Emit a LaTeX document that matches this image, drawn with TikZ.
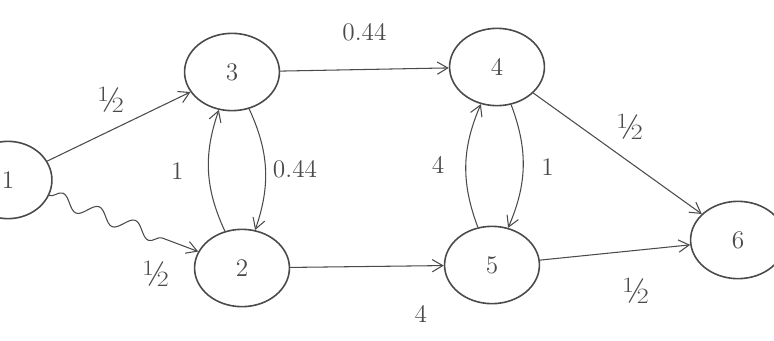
\documentclass[tikz,border=0pt]{standalone}
\usepackage{tikz}
\usetikzlibrary{arrows.meta,decorations.pathmorphing}
\definecolor{pencil}{HTML}{4A4A4A}
\tikzset{
  state/.style={
    ellipse, draw=pencil, line width=0.9pt,
    minimum width=54pt, minimum height=44pt,
    inner sep=0pt, font=\Large, text=pencil
  },
  arr/.style={-{Straight Barb[length=6pt,width=7pt]}, draw=pencil, line width=0.6pt},
  wlabel/.style={font=\Large, text=pencil, inner sep=4pt},
  half/.style={wlabel, font=\huge},
}
\usetikzlibrary{shapes.geometric}

\begin{document}
\begin{tikzpicture}[x=0.02cm, y=-0.02cm]

  % ── Canvas ───────────────────────────────────────────────────────────────────
  \useasboundingbox (0,0) rectangle (774,341);

  % ── States ───────────────────────────────────────────────────────────────────
  \node[state, minimum width=50pt] (S1) at (8,180)   {1};
  \node[state] (S3) at (232,72)  {3};
  \node[state] (S4) at (497,67)  {4};
  \node[state] (S6) at (738,240) {6};
  \node[state] (S2) at (242,268) {2};
  \node[state] (S5) at (492,265) {5};

  % ── Top path ─────────────────────────────────────────────────────────────────
  \draw[arr] (S1) -- node[half, above left, pos=0.6] {½} (S3);
  \draw[arr] (S3) -- node[wlabel, above, yshift=12pt] {0.44} (S4);
  \draw[arr] (S4) -- node[half, above right, pos=0.45] {½} (S6);

  % ── Bottom path ──────────────────────────────────────────────────────────────
  \draw[arr, decorate, decoration={snake, amplitude=4pt, segment length=22pt,
    post length=14pt}]
    (S1) -- node[half, below, pos=0.72, yshift=-10pt] {½} (S2);
  \draw[arr] (S2) -- node[wlabel, below, pos=0.85, yshift=-18pt] {4} (S5);
  \draw[arr] (S5) -- node[half, below right, pos=0.5, yshift=-10pt] {½} (S6);

  % ── Loops between rows ───────────────────────────────────────────────────────
  \draw[arr] (S3) to[bend left=22] node[wlabel, right] {0.44} (S2);
  \draw[arr] (S2) to[bend left=22] node[wlabel, left, xshift=-10pt] {1} (S3);
  \draw[arr] (S4) to[bend left=22] node[wlabel, right, xshift=6pt] {1} (S5);
  \draw[arr] (S5) to[bend left=22] node[wlabel, left, xshift=-8pt] {4} (S4);

\end{tikzpicture}
\end{document}
